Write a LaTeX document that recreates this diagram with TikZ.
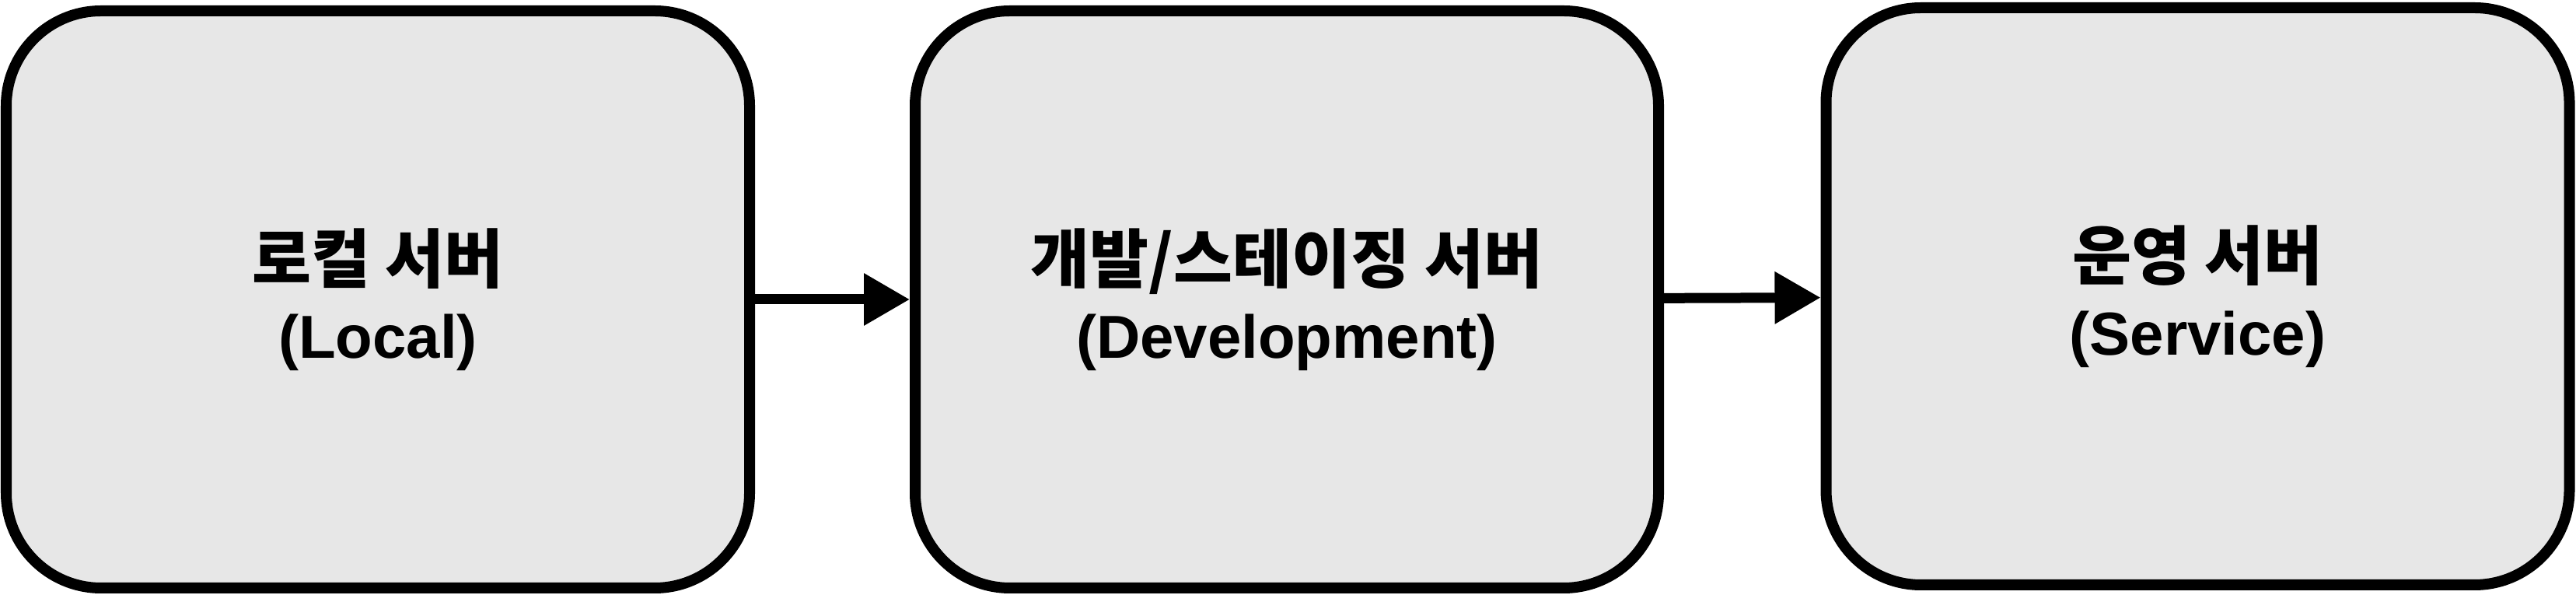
\documentclass[tikz,border=0pt]{standalone}
\usepackage{fontspec}
\setmainfont{Liberation Sans}
\newfontfamily\kofont{Noto Sans CJK KR}
\usetikzlibrary{arrows.meta}
\definecolor{boxgray}{RGB}{231,231,231}

\tikzset{
  server/.style={draw, fill=boxgray, line width=1.4mm, rounded corners=12.2mm,
    minimum width=9.56cm, minimum height=7.42cm, align=center, inner sep=0pt,
    font=\bfseries\fontsize{22.2pt}{27.6pt}\selectfont},
  flow/.style={line width=1.3mm, -{Triangle[length=5.9mm, width=6.4mm]}}
}

\newcommand{\kline}[1]{{\kofont\fontsize{23.5pt}{27.6pt}\selectfont #1}}

\begin{document}
\begin{tikzpicture}
             \useasboundingbox (0,0) rectangle (33.13,7.65);

             \node[server] (local) at (4.86,3.80) {\kline{로컬 서버}\\(Local)};
             \node[server] (dev) at (16.55,3.80) {\kline{개발/스테이징 서버}\\(Development)};
             \node[server] (service) at (28.265,3.84) {\kline{운영 서버}\\(Service)};

             \draw[flow] (local) -- (dev);
             \draw[flow] (dev) -- (service);
         \end{tikzpicture}
\end{document}
